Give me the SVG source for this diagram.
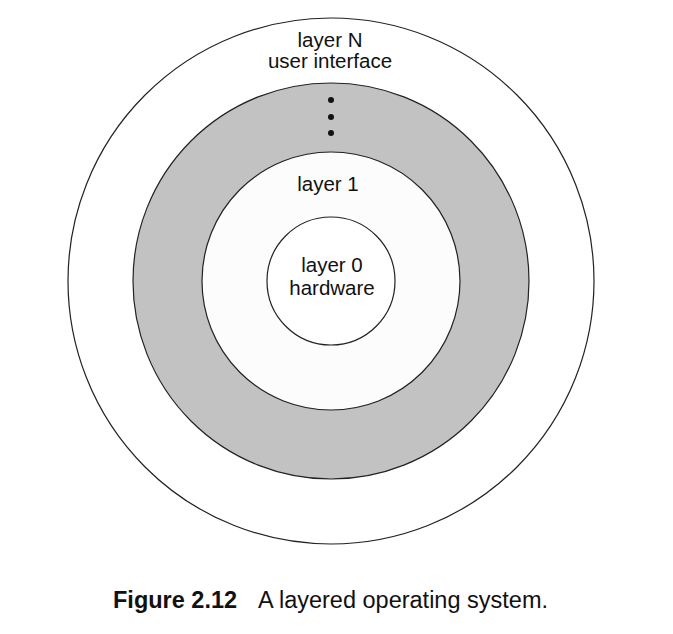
<svg xmlns="http://www.w3.org/2000/svg" width="673" height="634" viewBox="0 0 673 634">
<style>
.ring{stroke:#222;stroke-width:1.2}
.lbl{font-family:"Liberation Sans",Arial,sans-serif;font-size:20.5px;fill:#111;text-anchor:middle}
.cap{font-family:"Liberation Sans",Arial,sans-serif;font-size:23.5px;fill:#111}
</style>
<rect width="673" height="634" fill="#fff"/>
<g id="layerN">
<circle class="ring" cx="331" cy="281" r="263" fill="#fff" stroke-width="1"/>
<text class="lbl" x="330" y="47">layer N</text>
<text class="lbl" x="330" y="68">user interface</text>
</g>
<g id="layers-middle">
<circle class="ring" cx="331" cy="281" r="198" fill="#c2c2c2"/>
<circle cx="331" cy="100" r="3" fill="#111"/>
<circle cx="331" cy="117" r="3" fill="#111"/>
<circle cx="331" cy="133" r="3" fill="#111"/>
</g>
<g id="layer1">
<circle class="ring" cx="331" cy="281" r="129" fill="#fcfcfc"/>
<text class="lbl" x="328" y="191">layer 1</text>
</g>
<g id="layer0">
<circle class="ring" cx="331" cy="281" r="64" fill="#fff"/>
<text class="lbl" x="332" y="272">layer 0</text>
<text class="lbl" x="332" y="295">hardware</text>
</g>
<g id="connectors"/>
<text class="cap" x="113" y="608"><tspan font-weight="bold">Figure 2.12</tspan><tspan x="258">A layered operating system.</tspan></text>
</svg>
